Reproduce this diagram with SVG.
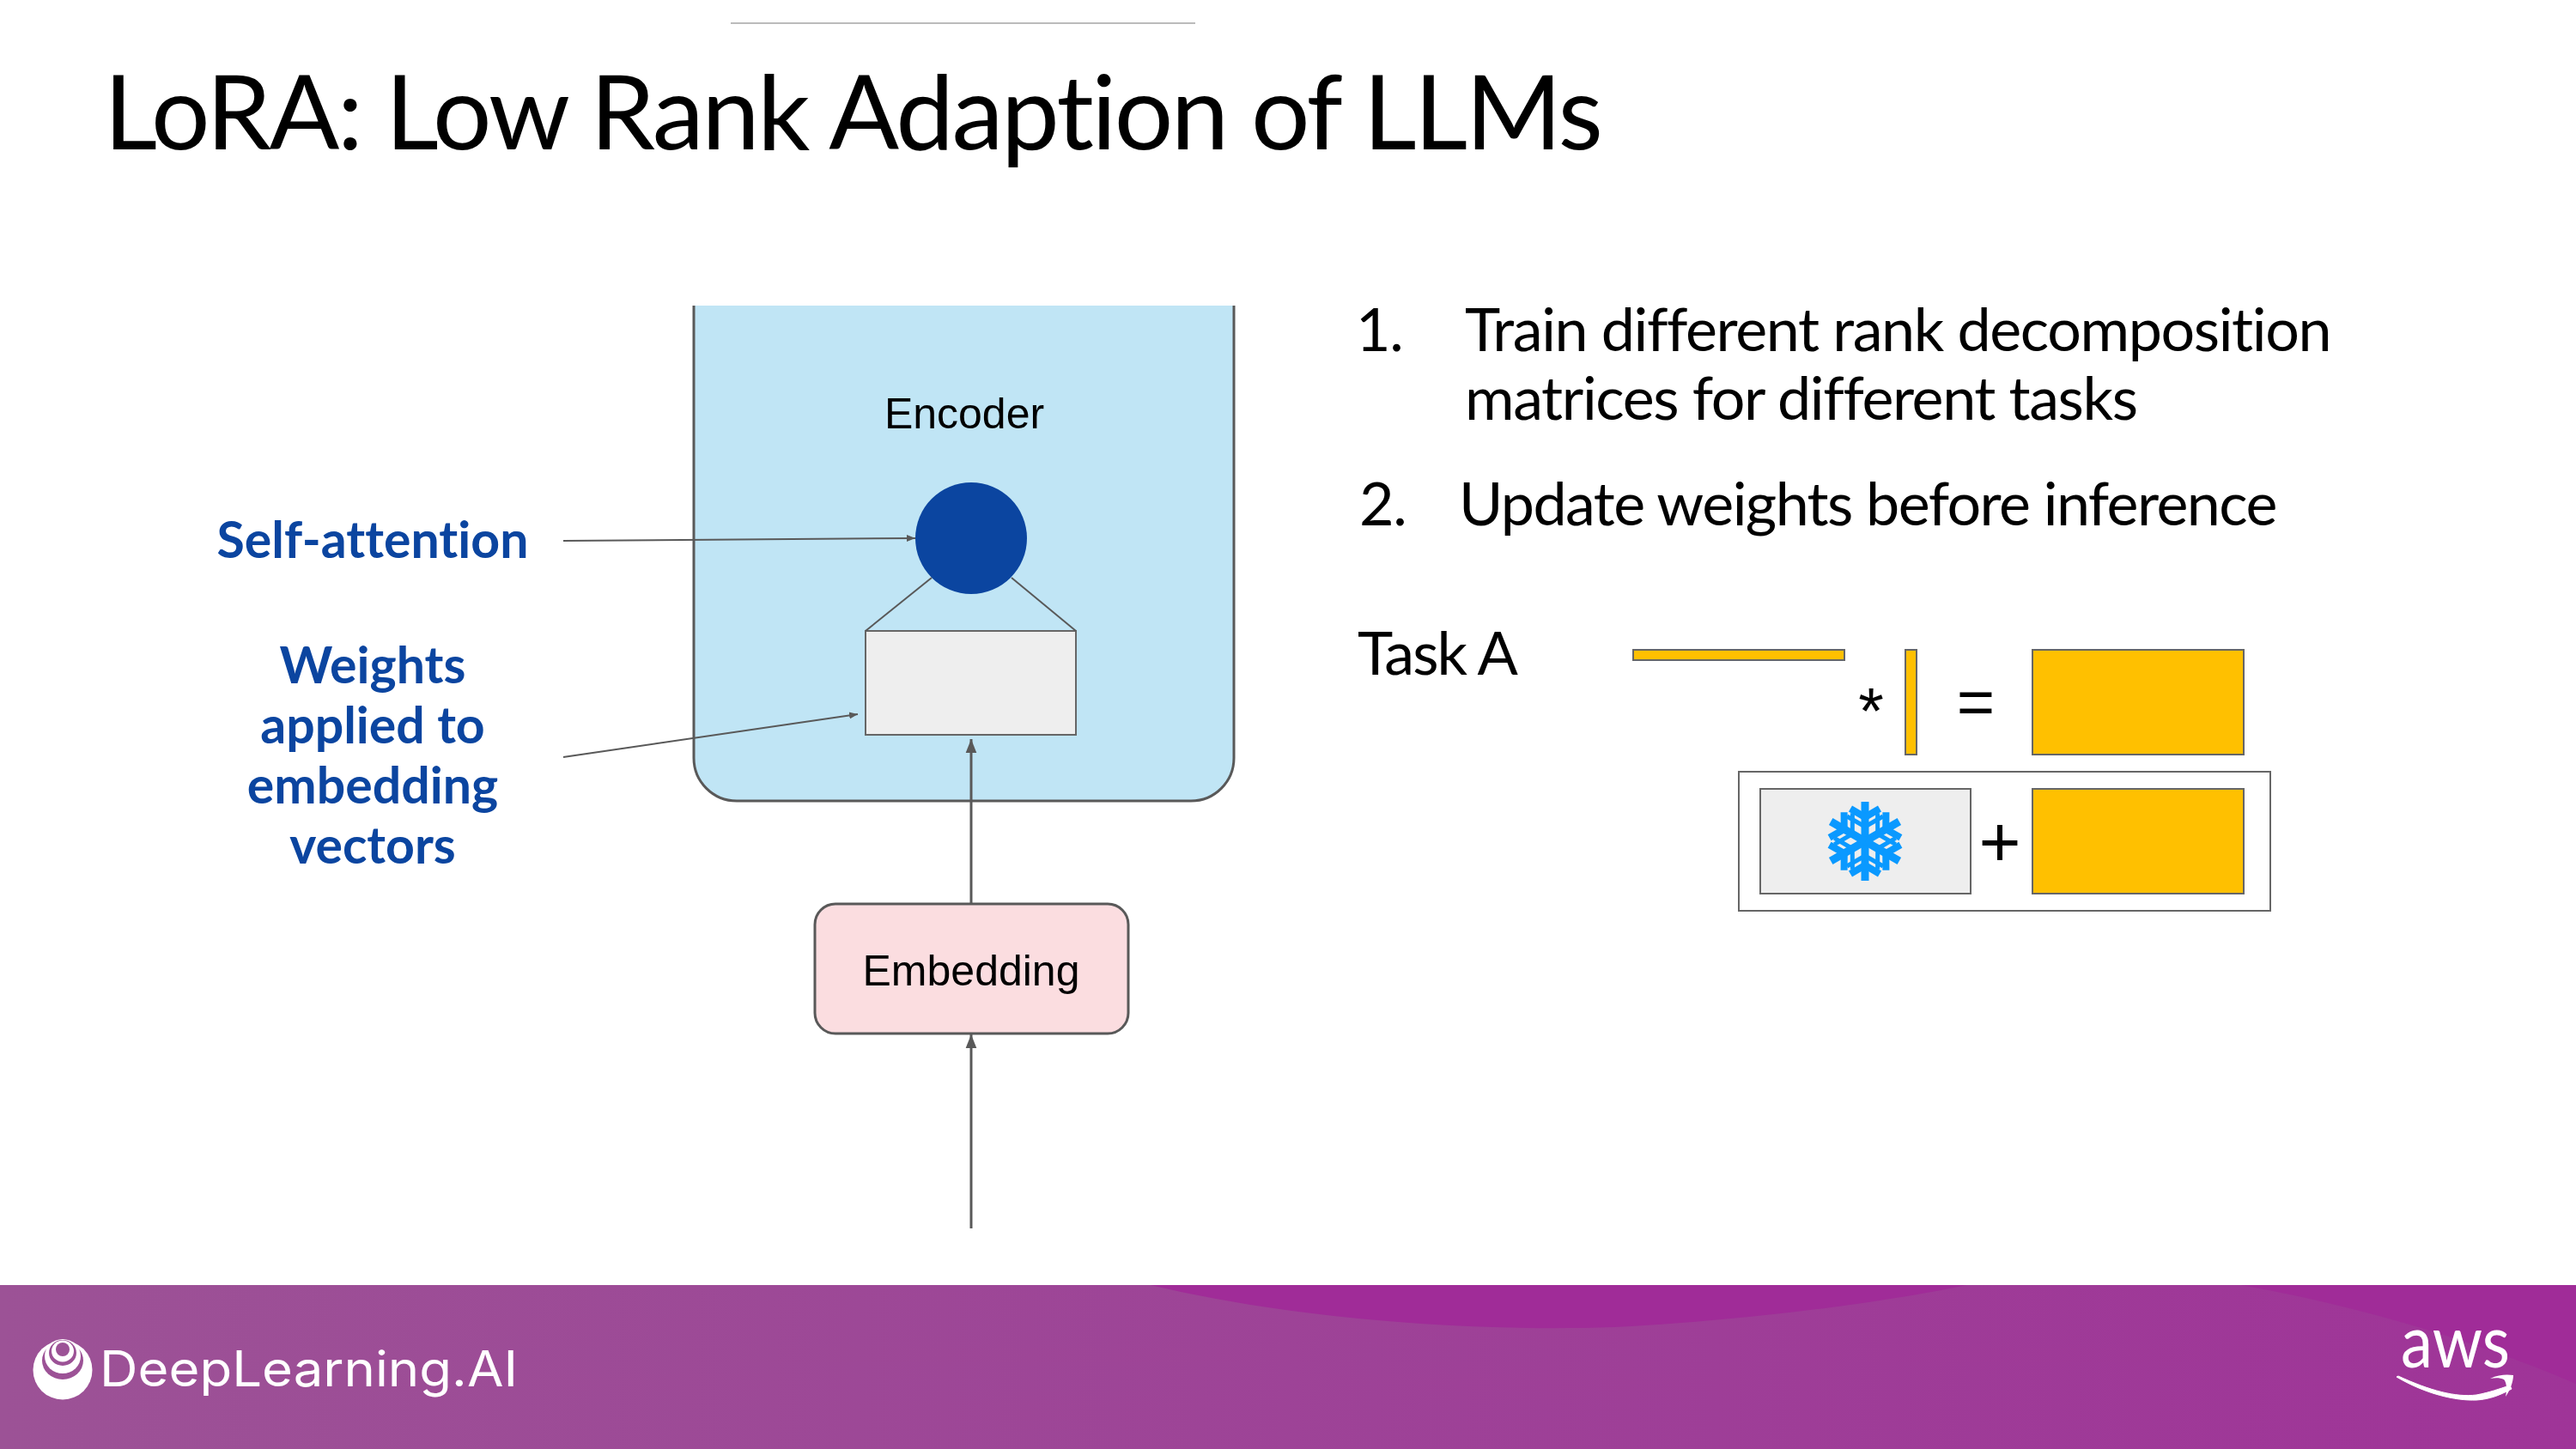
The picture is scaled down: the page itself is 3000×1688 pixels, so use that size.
<svg xmlns="http://www.w3.org/2000/svg" width="3000" height="1688" viewBox="0 0 3000 1688">
<style>
.lato{font-family:Lato,"Liberation Sans",sans-serif;fill:#000;font-variant-ligatures:none}
.body{font-size:70px;letter-spacing:-1.4px}
.blue{font-family:Lato,"Liberation Sans",sans-serif;font-weight:700;font-size:59px;fill:#0B45A0;text-anchor:middle;font-variant-ligatures:none}
.ar{font-family:"Liberation Sans",Arial,sans-serif;fill:#000}
.y{fill:#FFC000;stroke:#666;stroke-width:2}
.g{fill:#EEEEEE;stroke:#666;stroke-width:2}
.ln{fill:none;stroke:#595959;stroke-width:2}
</style>
<defs>
<linearGradient id="foot" x1="0" x2="1" y1="0" y2="0"><stop offset="0" stop-color="#9C5296"/><stop offset="1" stop-color="#9F3498"/></linearGradient>
<marker id="ah" markerUnits="userSpaceOnUse" markerWidth="16" markerHeight="20" refX="19" refY="7.5" orient="auto" viewBox="0 0 19 15"><path d="M0 0L19 7.5L0 15Z" fill="#595959"/></marker>
<marker id="as" markerUnits="userSpaceOnUse" markerWidth="10" markerHeight="10" refX="10" refY="4" orient="auto" viewBox="0 0 10 8"><path d="M0 0L10 4L0 8Z" fill="#595959"/></marker>
<g id="arm"><path d="M0 0V-46" fill="none" stroke="#0A99FF" stroke-width="9"/><path d="M-17 -38L0 -28L17 -38" fill="none" stroke="#0A99FF" stroke-width="8"/><path d="M-21 -29L0 -17L21 -29" fill="none" stroke="#0A99FF" stroke-width="5"/></g>
</defs>
<rect width="3000" height="1688" fill="#fff"/>
<path d="M851 27H1392" stroke="#bbb" stroke-width="2"/>
<g id="title"><text class="lato" x="121" y="174" font-size="121" letter-spacing="-2.6">LoRA: Low Rank Adaption of LLMs</text></g>

<g id="encoder"><path d="M808 356V883A50 50 0 0 0 858 933H1387A50 50 0 0 0 1437 883V356Z" fill="#C0E5F5"/><path d="M808 356V883A50 50 0 0 0 858 933H1387A50 50 0 0 0 1437 883V356" fill="none" stroke="#595959" stroke-width="3"/><text class="ar" x="1123" y="499" font-size="50" text-anchor="middle">Encoder</text></g>
<g id="weights-box"><rect class="g" x="1008" y="735" width="245" height="121"/></g>
<g id="attention-node"><circle cx="1131" cy="627" r="65" fill="#0B45A0"/></g>
<g id="embedding"><rect x="949" y="1053" width="365" height="151" rx="24" fill="#FBDDE0" stroke="#595959" stroke-width="3"/><text class="ar" x="1131" y="1148" font-size="50" text-anchor="middle">Embedding</text></g>

<g id="connectors">
<path class="ln" d="M1008 735L1085 673M1253 735L1178 673"/>
<path class="ln" d="M656 630L1066 627" marker-end="url(#as)"/>
<path class="ln" d="M656 882L999 832" marker-end="url(#as)"/>
<path class="ln" style="stroke-width:3" d="M1131 1053V861" marker-end="url(#ah)"/>
<path class="ln" style="stroke-width:3" d="M1131 1431V1205" marker-end="url(#ah)"/>
</g>

<g id="label-self-attention"><text class="blue" x="434" y="650">Self-attention</text></g>
<g id="label-weights"><text class="blue" x="434" y="796">Weights</text><text class="blue" x="434" y="866">applied to</text><text class="blue" x="434" y="936">embedding</text><text class="blue" x="434" y="1006">vectors</text></g>

<g id="steps">
<text class="lato body" x="1579" y="409">1.</text><text class="lato body" x="1706" y="409">Train different rank decomposition</text>
<text class="lato body" x="1706" y="489">matrices for different tasks</text>
<text class="lato body" x="1583" y="612">2.</text><text class="lato body" x="1699" y="612" style="letter-spacing:-1.6px">Update weights before inference</text>
</g>
<g id="task-a"><text class="lato body" x="1581" y="786" style="letter-spacing:-2px">Task A</text></g>

<g id="matrix-u"><rect class="y" x="1902" y="757" width="246" height="12"/></g>
<g id="op-mul"><text class="ar" x="2179" y="854" font-size="76" text-anchor="middle">*</text></g>
<g id="matrix-v"><rect class="y" x="2219" y="757" width="13" height="122"/></g>
<g id="op-eq"><text class="ar" x="2301" y="844" font-size="76" text-anchor="middle">=</text></g>
<g id="matrix-product"><rect class="y" x="2367" y="757" width="246" height="122"/></g>
<g id="sum-group"><rect x="2025" y="899" width="619" height="162" fill="#fff" stroke="#666" stroke-width="2"/></g>
<g id="frozen"><rect class="g" x="2050" y="919" width="245" height="122"/>
<g transform="translate(2172 980)"><use href="#arm"/><use href="#arm" transform="rotate(60)"/><use href="#arm" transform="rotate(120)"/><use href="#arm" transform="rotate(180)"/><use href="#arm" transform="rotate(240)"/><use href="#arm" transform="rotate(300)"/></g></g>
<g id="op-plus"><text class="ar" x="2329" y="1009" font-size="84" text-anchor="middle">+</text></g>
<g id="matrix-update"><rect class="y" x="2367" y="919" width="246" height="122"/></g>

<g id="footer">
<rect x="0" y="1497" width="3000" height="191" fill="url(#foot)"/>
<path d="M1340 1497C1500 1535 1700 1552 1880 1546C2040 1538 2200 1516 2290 1497Z" fill="#A02C98"/>
<path d="M2610 1497C2740 1520 2880 1560 3000 1612V1497Z" fill="#A02C98"/>
<g id="logo-dl"><ellipse cx="73" cy="1596" rx="34.500" ry="34.500" fill="#fff"/><ellipse cx="73" cy="1585" rx="24" ry="22" fill="#9C5296"/><ellipse cx="73" cy="1580" rx="21" ry="20" fill="#fff"/><ellipse cx="73" cy="1576" rx="16" ry="15" fill="#9C5296"/><ellipse cx="73" cy="1574" rx="13" ry="12.500" fill="#fff"/><ellipse cx="73" cy="1572" rx="8" ry="8" fill="#9C5296"/>
<text x="116" y="1615" font-family="Inter,Lato,sans-serif" font-size="57" fill="#fff" textLength="487" lengthAdjust="spacingAndGlyphs">DeepLearning.AI</text></g>
<g id="logo-aws"><text x="2796" y="1593" font-family="Lato,sans-serif" font-size="86" fill="#fff" textLength="127" lengthAdjust="spacingAndGlyphs">aws</text>
<path d="M2791 1604C2825 1624 2860 1632 2884 1631C2900 1630 2912 1625 2925 1618L2923 1614C2910 1618 2900 1622 2884 1625C2860 1628 2830 1620 2793 1603Z" fill="#fff" stroke="#fff" stroke-width="1"/><path d="M2900 1606C2910 1601 2920 1601 2927 1602C2927 1610 2923 1620 2918 1627C2920 1618 2919 1610 2916 1607C2912 1605 2906 1605 2900 1606Z" fill="#fff"/></g>
</g>
</svg>
